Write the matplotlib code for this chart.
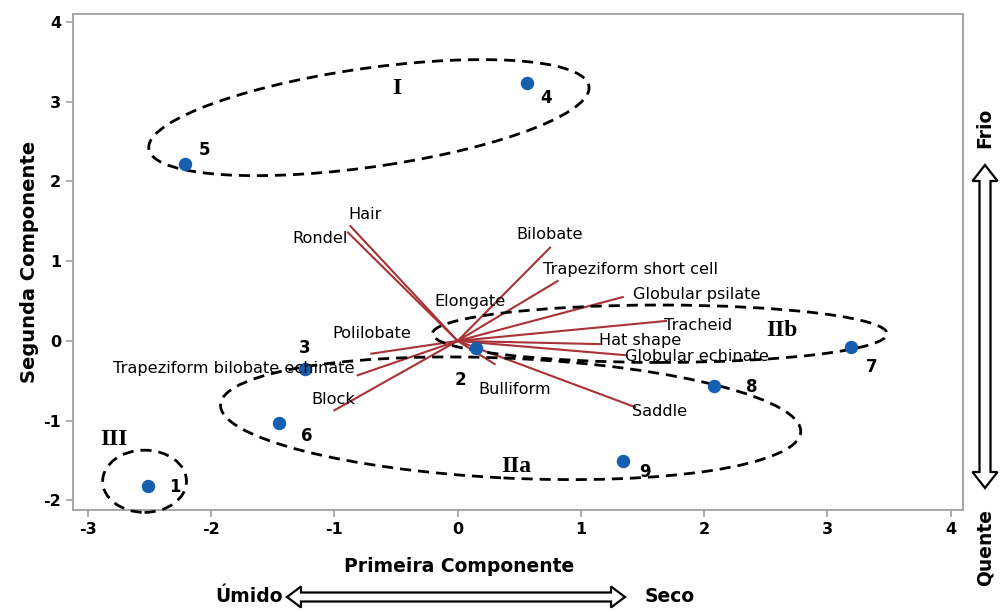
import matplotlib
matplotlib.use("Agg")
import numpy as np
import matplotlib.pyplot as plt
from matplotlib.patches import Ellipse, Polygon

# sample scores (PC1, PC2)
sample_ids = ["1", "2", "3", "4", "5", "6", "7", "8", "9"]
pc1 = [-2.51, 0.15, -1.24, 0.56, -2.21, -1.45, 3.19, 2.08, 1.34]
pc2 = [-1.82, -0.09, -0.35, 3.24, 2.22, -1.03, -0.08, -0.56, -1.51]

# morphotype loadings
morphotypes = ["Hair", "Rondel", "Bilobate", "Trapeziform short cell",
               "Globular psilate", "Tracheid", "Hat shape", "Globular echinate",
               "Saddle", "Bulliform", "Elongate", "Polilobate",
               "Trapeziform bilobate echinate", "Block"]
load1 = [-0.87, -0.89, 0.75, 0.81, 1.34, 1.69, 1.15, 1.37, 1.44, 0.30, 0.05, -0.70, -0.81, -1.00]
load2 = [1.44, 1.36, 1.17, 0.75, 0.55, 0.25, -0.04, -0.18, -0.83, -0.29, 0.06, -0.16, -0.43, -0.87]

# groups
group_names = ["I", "IIa", "IIb", "III"]

# where the text of each loading sits (data coords)
load_text = {
    "Hair": (-0.75, 1.59), "Rondel": (-1.12, 1.29), "Bilobate": (0.75, 1.34),
    "Trapeziform short cell": (1.40, 0.89), "Globular psilate": (1.94, 0.58),
    "Tracheid": (1.95, 0.19), "Hat shape": (1.48, 0.0),
    "Globular echinate": (1.94, -0.20), "Saddle": (1.64, -0.89),
    "Bulliform": (0.46, -0.61), "Elongate": (0.10, 0.49),
    "Polilobate": (-0.70, 0.09), "Trapeziform bilobate echinate": (-1.82, -0.35),
    "Block": (-1.01, -0.74),
}
# sample label offsets (points)
id_offset = {"1": (19, -1), "2": (-11, -23), "3": (0, 15), "4": (14, -11),
             "5": (14, 10), "6": (20, -9), "7": (15, -14), "8": (27, -1),
             "9": (16, -8)}
# ellipse (center, width, height, angle) and group label pos
ell = {"I": ((-0.72, 2.80), 3.66, 1.22, 13.3, (-0.49, 3.17)),
       "IIa": ((0.43, -0.97), 4.72, 1.50, -4.4, (0.48, -1.57)),
       "IIb": ((1.64, 0.09), 3.69, 0.72, 0.0, (2.63, 0.13)),
       "III": ((-2.54, -1.76), 0.68, 0.78, 0.0, (-2.79, -1.24))}

plt.rcParams["axes.unicode_minus"] = False
fig = plt.figure(figsize=(10.01, 6.12), dpi=100)
ax = fig.add_axes([0.073, 0.1667, 0.889, 0.8105])

for name, x, y in zip(morphotypes, load1, load2):
    ax.plot([0, x], [0, y], color="#a83236", lw=1.5, zorder=2)
    tx, ty = load_text[name]
    ax.text(tx, ty, name, ha="center", va="center", fontsize=11.6, zorder=5)

for g in group_names:
    c, w, h, a, lp = ell[g]
    ax.add_patch(Ellipse(c, w, h, angle=a, fill=False, ec="black", lw=2,
                         ls=(0, (4, 2.5)), zorder=3, clip_on=False))
    ax.text(lp[0], lp[1], g, ha="center", va="center", fontsize=17,
            fontweight="bold", family="Liberation Serif", zorder=5)

ax.scatter(pc1, pc2, s=75, color="#165fb0", zorder=4)
for sid, x, y in zip(sample_ids, pc1, pc2):
    ax.annotate(sid, (x, y), xytext=id_offset[sid], textcoords="offset points",
                ha="center", va="center", fontsize=12, fontweight="bold", zorder=5)

ax.set_xlim(-3.12, 4.10)
ax.set_ylim(-2.12, 4.10)
ax.set_xticks(range(-3, 5))
ax.set_yticks(range(-2, 5))
for s in ax.spines.values():
    s.set_color("#a0a0a0")
    s.set_linewidth(1.3)
ax.tick_params(color="#a0a0a0", length=5, width=1.2, labelsize=11.5)
for lab in ax.get_xticklabels() + ax.get_yticklabels():
    lab.set_fontweight("bold")

# overlay in pixel coordinates for labels and arrows
ov = fig.add_axes([0, 0, 1, 1], zorder=-1)
ov.set_xlim(0, 1001)
ov.set_ylim(612, 0)
ov.axis("off")


def darrow(x0, y0, x1, y1, shaft, head, hl):
    p0, p1 = np.array([x0, y0], float), np.array([x1, y1], float)
    u = (p1 - p0) / np.linalg.norm(p1 - p0)
    n = np.array([-u[1], u[0]])
    pts = [p0, p0 + u * hl + n * head / 2, p0 + u * hl + n * shaft / 2,
           p1 - u * hl + n * shaft / 2, p1 - u * hl + n * head / 2, p1,
           p1 - u * hl - n * head / 2, p1 - u * hl - n * shaft / 2,
           p0 + u * hl - n * shaft / 2, p0 + u * hl - n * head / 2]
    ov.add_patch(Polygon(pts, closed=True, fc="white", ec="black", lw=1.6))


darrow(287, 597, 625, 597, 9, 21, 14)
darrow(985, 165, 985, 488, 11, 25, 16)

ov.text(459, 567, "Primeira Componente", ha="center", va="center",
        fontsize=13.5, fontweight="bold")
ov.text(30, 262, "Segunda Componente", ha="center", va="center",
        fontsize=14, fontweight="bold", rotation=90)
ov.text(283, 597, "Úmido", ha="right", va="center", fontsize=13.5, fontweight="bold")
ov.text(645, 597, "Seco", ha="left", va="center", fontsize=13.5, fontweight="bold")
ov.text(985, 128, "Frio", ha="center", va="center", fontsize=13.5,
        fontweight="bold", rotation=90)
ov.text(985, 548, "Quente", ha="center", va="center", fontsize=13.5,
        fontweight="bold", rotation=90)

fig.savefig("out.png", dpi=100)
